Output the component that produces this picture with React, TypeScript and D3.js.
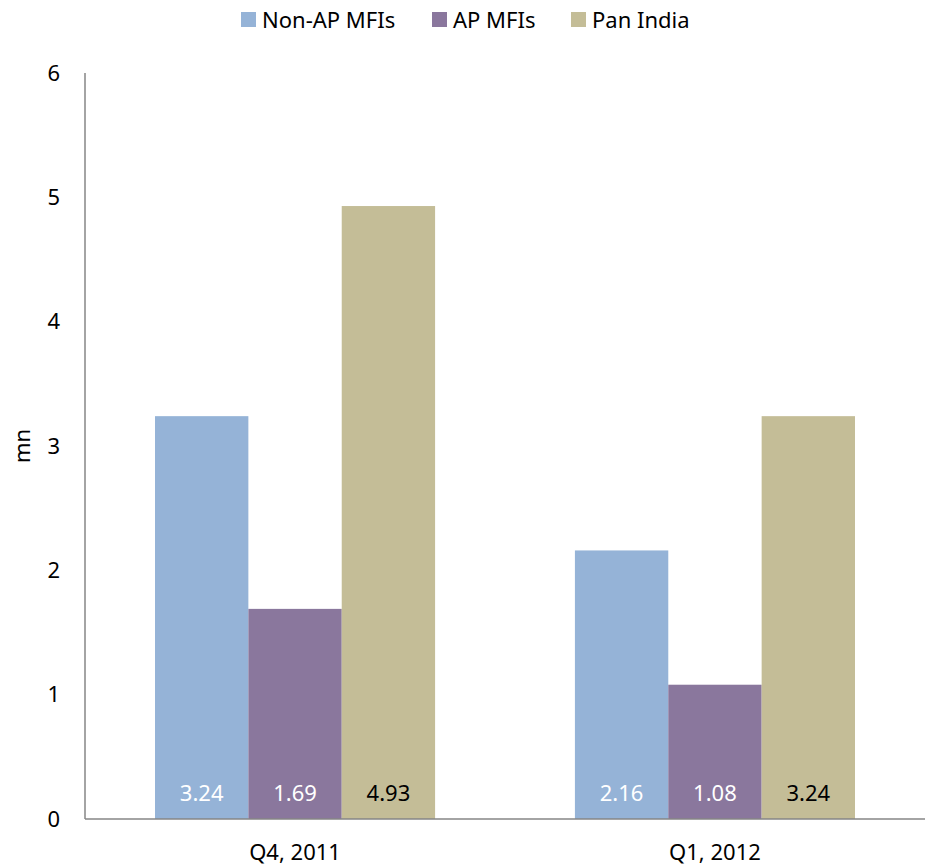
import React from 'react';
import * as d3 from 'd3';

const categories = ['Q4, 2011', 'Q1, 2012'];
const seriesNames = ['Non-AP MFIs', 'AP MFIs', 'Pan India'];
const nonApValues = [3.24, 2.16];
const apValues = [1.69, 1.08];
const panIndiaValues = [4.93, 3.24];
const yTicks = [0, 1, 2, 3, 4, 5, 6];

const colors = ['#95b3d7', '#8a779d', '#c4bd97'];
const labelColors = ['#ffffff', '#ffffff', '#000000'];

const width = 925;
const height = 868;
const margin = { top: 73, right: 0, bottom: 49, left: 85 };
const font = '"Noto Sans", "Open Sans", sans-serif';

const App: React.FC = () => {
    const series = [nonApValues, apValues, panIndiaValues];
    const innerW = width - margin.left - margin.right;
    const innerH = height - margin.top - margin.bottom;

    const x0 = d3.scaleBand<string>()
        .domain(categories)
        .range([0, innerW])
        .paddingInner(0.333)
        .paddingOuter(0.1667);

    const x1 = d3.scaleBand<string>()
        .domain(seriesNames)
        .range([0, x0.bandwidth()]);

    const y = d3.scaleLinear().domain([0, 6]).range([innerH, 0]);

    // legend swatch positions
    const legendX = [241, 432, 571];

    return (
        <svg width={width} height={height}
             style={{ position: 'absolute', left: 0, top: 0, background: '#fff' }}
             fontFamily={font}>
            <g>
                {seriesNames.map((name, i) => (
                    <g key={name} transform={`translate(${legendX[i]},12)`}>
                        <rect width={15} height={15} fill={colors[i]} />
                        <text x={21} y={8} dy="0.35em" fontSize={22} fill="#000">{name}</text>
                    </g>
                ))}
            </g>
            <text transform={`translate(22,${margin.top + innerH / 2}) rotate(-90)`}
                  textAnchor="middle" dy="0.35em" fontSize={22}>mn</text>
            <g transform={`translate(${margin.left},${margin.top})`}>
                {categories.map((cat, ci) => (
                    <g key={cat} transform={`translate(${x0(cat)},0)`}>
                        {seriesNames.map((name, si) => {
                            const v = series[si][ci];
                            const bx = x1(name) as number;
                            return (
                                <g key={name}>
                                    <rect x={bx} y={y(v)} width={x1.bandwidth()}
                                          height={innerH - y(v)} fill={colors[si]} />
                                    <text x={bx + x1.bandwidth() / 2} y={innerH - 26}
                                          dy="0.35em" textAnchor="middle" fontSize={22}
                                          fill={labelColors[si]}>{v.toFixed(2)}</text>
                                </g>
                            );
                        })}
                        <text x={x0.bandwidth() / 2} y={innerH + 33} dy="0.35em"
                              textAnchor="middle" fontSize={22} fill="#000">{cat}</text>
                    </g>
                ))}
                {yTicks.map(t => (
                    <text key={t} x={-25} y={y(t)} dy="0.35em" textAnchor="end"
                          fontSize={22} fill="#000">{t}</text>
                ))}
                <line x1={0} x2={0} y1={0} y2={innerH} stroke="#868686" strokeWidth={1.5} />
                <line x1={0} x2={innerW} y1={innerH} y2={innerH} stroke="#868686" strokeWidth={1.5} />
            </g>
        </svg>
    );
};

export default App;
